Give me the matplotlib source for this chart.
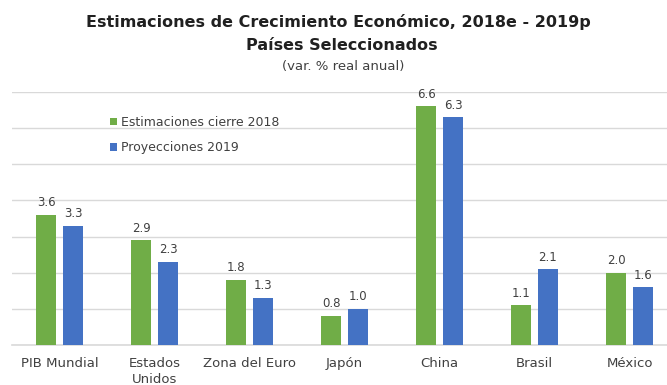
import numpy as np
import matplotlib
matplotlib.use("Agg")
import matplotlib.pyplot as plt

# growth estimates, % real annual change
paises = ["PIB Mundial", "Estados\nUnidos", "Zona del Euro", "Japón", "China", "Brasil", "México"]
cierre_2018 = [3.6, 2.9, 1.8, 0.8, 6.6, 1.1, 2.0]
proy_2019 = [3.3, 2.3, 1.3, 1.0, 6.3, 2.1, 1.6]

GREEN, BLUE, TXT, GRID = "#70AD47", "#4472C4", "#404040", "#D9D9D9"
plt.rcParams["font.family"] = ["DejaVu Sans"]

fig = plt.figure(figsize=(6.67, 3.85), dpi=100)
ax = fig.add_axes([0.018, 0.104, 0.997, 0.657])

xs = np.arange(len(paises))
w, off = 0.22, 0.142
b1 = ax.bar(xs - off, cierre_2018, w, color=GREEN, label="Estimaciones cierre 2018", zorder=3)
b2 = ax.bar(xs + off, proy_2019, w, color=BLUE, label="Proyecciones 2019", zorder=3)
for bars, vals in ((b1, cierre_2018), (b2, proy_2019)):
    for b, v in zip(bars, vals):
        ax.annotate(f"{v:.1f}", (b.get_x() + b.get_width() / 2, v), xytext=(0, 4),
                    textcoords="offset points", ha="center", va="bottom",
                    fontsize=8.5, color=TXT)

ax.set_xlim(-0.5, len(paises) - 0.5)
ax.set_ylim(0, 7)
ax.set_yticks(np.arange(0, 8, 1))
ax.yaxis.grid(True, color=GRID, lw=1, zorder=0)
ax.axhline(0, color=GRID, lw=1.2, zorder=2, clip_on=False)
ax.tick_params(axis="y", left=False, labelleft=False)
ax.tick_params(axis="x", bottom=False, labelsize=9.5, labelcolor=TXT, pad=5)
ax.set_xticks(xs)
ax.set_xticklabels(paises, va="top", linespacing=1.3)
for s in ax.spines.values():
    s.set_visible(False)

ax.legend(loc="upper left", bbox_to_anchor=(0.13, 0.95), frameon=False, fontsize=9,
          labelcolor=TXT, handlelength=0.6, handleheight=0.6, handletextpad=0.3,
          labelspacing=1.0)

fig.text(0.508, 0.943, "Estimaciones de Crecimiento Económico, 2018e - 2019p",
         ha="center", va="center", fontsize=11.5, fontweight="bold", color="#202020")
fig.text(0.512, 0.883, "Países Seleccionados", ha="center", va="center",
         fontsize=11.5, fontweight="bold", color="#202020")
fig.text(0.514, 0.828, "(var. % real anual)", ha="center", va="center",
         fontsize=9.5, color=TXT)

fig.savefig("out.png", dpi=100)
